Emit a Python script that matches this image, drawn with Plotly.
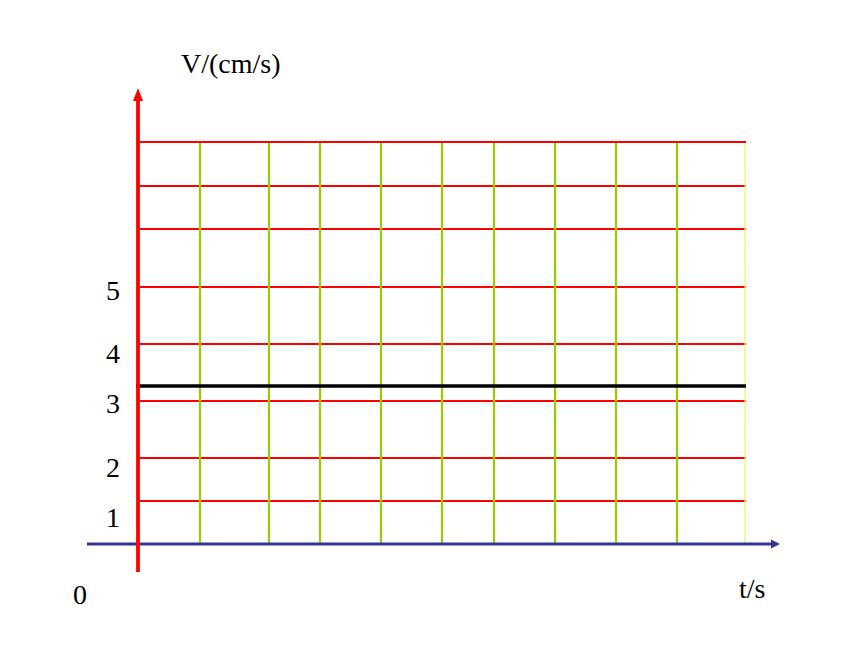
import plotly.graph_objects as go

# Coordinates: t measured from the vertical axis, v measured up from the time axis
grid_v = [43, 86, 143, 200, 257, 315, 358, 402]          # red horizontal grid lines
grid_t = [62, 131, 182, 243, 304, 356, 417, 478, 539]     # green vertical grid lines
grid_t_last = 607                                          # lighter last vertical line
t_end = 608
v_top = 401
const_v = 158                                              # black constant-velocity line
tick_labels = ["1", "2", "3", "4", "5"]
tick_pos = [27, 77, 141, 191, 254]

fig = go.Figure()

# red horizontal grid
xs, ys = [], []
for v in grid_v:
    xs += [0, t_end, None]
    ys += [v, v, None]
fig.add_trace(go.Scatter(x=xs, y=ys, mode="lines", line=dict(color="#ff0000", width=1.8),
                         hoverinfo="skip", showlegend=False))

# green vertical grid
xs, ys = [], []
for t in grid_t:
    xs += [t, t, None]
    ys += [0, v_top, None]
fig.add_trace(go.Scatter(x=xs, y=ys, mode="lines", line=dict(color="#99cc00", width=2.2),
                         hoverinfo="skip", showlegend=False))
fig.add_trace(go.Scatter(x=[grid_t_last, grid_t_last], y=[0, v_top], mode="lines",
                         line=dict(color="#ddf570", width=1.2), hoverinfo="skip", showlegend=False))

# black constant line
fig.add_trace(go.Scatter(x=[-2, t_end], y=[const_v, const_v], mode="lines",
                         line=dict(color="#000000", width=3.4), hoverinfo="skip", showlegend=False))

# blue time axis
fig.add_trace(go.Scatter(x=[-51, 636], y=[0, 0], mode="lines",
                         line=dict(color="#333399", width=2.8), hoverinfo="skip", showlegend=False))
fig.add_shape(type="path", path="M 642 0 L 633 4.5 L 633 -4.5 Z", fillcolor="#333399",
              line=dict(width=0), xref="x", yref="y")

# red velocity axis
fig.add_trace(go.Scatter(x=[0, 0], y=[-28, 446], mode="lines",
                         line=dict(color="#ff0000", width=3.8), hoverinfo="skip", showlegend=False))
fig.add_shape(type="path", path="M 0 456 L -5 443 L 5 443 Z", fillcolor="#ff0000",
              line=dict(width=0), xref="x", yref="y")

font = dict(family="Liberation Serif, Times New Roman, serif", size=28, color="#000000")
for lab, p in zip(tick_labels, tick_pos):
    fig.add_annotation(x=-25, y=p, text=lab, showarrow=False, font=font, xref="x", yref="y")
fig.add_annotation(x=-58, y=-50, text="0", showarrow=False, font=font, xref="x", yref="y")
fig.add_annotation(x=93, y=481, text="V/(cm/s)", showarrow=False, font=font, xref="x", yref="y")
fig.add_annotation(x=614, y=-44, text="t/s", showarrow=False, font=font, xref="x", yref="y")

fig.update_layout(
    width=860, height=645,
    margin=dict(l=0, r=0, t=0, b=0),
    paper_bgcolor="white", plot_bgcolor="white",
    xaxis=dict(range=[-130, 730], visible=False, fixedrange=True),
    yaxis=dict(range=[-109, 536], visible=False, fixedrange=True),
    showlegend=False,
)

fig.write_html("out.html")
